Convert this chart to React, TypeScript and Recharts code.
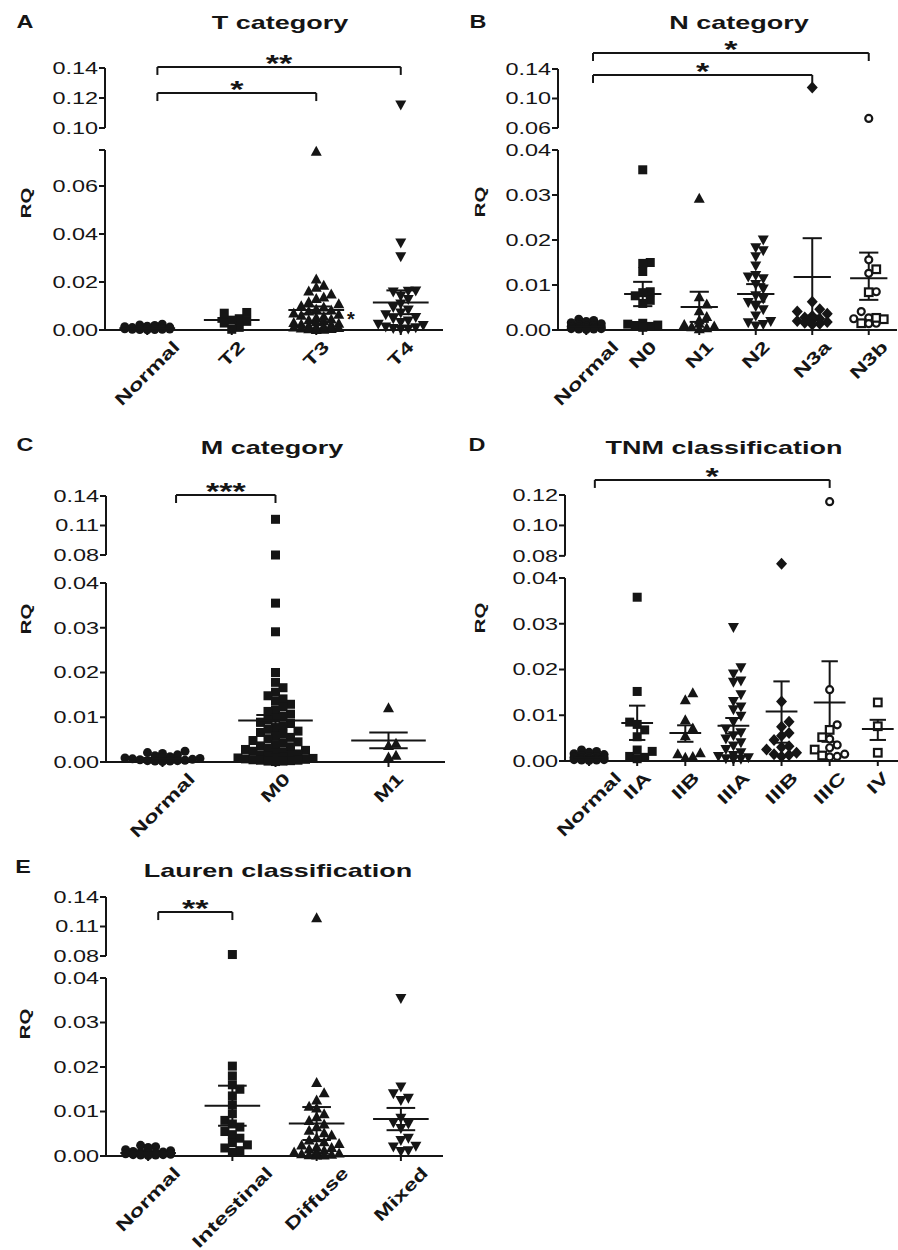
import React from "react";
import {
  ScatterChart,
  Scatter,
  XAxis,
  YAxis,
  ReferenceLine,
  ReferenceDot,
  ErrorBar,
} from "recharts";

const FONT = '"Liberation Sans", Arial, Helvetica, sans-serif';
const INK = "#151515";
const STRETCH = 1.42; // the figure uses a wide face, so text is widened
const XFS = 17;
const STEP = 7.5;
const ROW = 8;

// normal tissue, the same group in every panel
const normalRQ = [0.0024, 0.0021, 0.0019, 0.0016, 0.0014, 0.0012, 0.001, 0.0009, 0.0008, 0.0007, 0.0006, 0.0005, 0.0004, 0.0003, 0.0003, 0.0002, 0.0002, 0.0001];

// A - T category
const tCategories = ["Normal", "T2", "T3", "T4"];
const tT2 = [0.0073, 0.007, 0.0047, 0.0041, 0.0036, 0.0029, 0.0011, 0.0003];
const tT3 = [0.0745, 0.0212, 0.0186, 0.0178, 0.0163, 0.015, 0.0137, 0.0131, 0.0118, 0.0109, 0.0101, 0.0096, 0.0088, 0.0083, 0.0079, 0.0071, 0.0066, 0.0061, 0.0057, 0.0052, 0.0046, 0.0043, 0.0039, 0.0035, 0.0031, 0.0028, 0.0025, 0.0022, 0.0019, 0.0017, 0.0014, 0.0012, 0.001, 0.0008, 0.0006, 0.0005, 0.0003, 0.0002];
const tT4 = [0.1153, 0.0362, 0.0305, 0.0163, 0.0161, 0.0158, 0.0142, 0.0127, 0.0108, 0.0094, 0.0083, 0.0071, 0.0064, 0.0052, 0.0047, 0.0038, 0.0031, 0.0024, 0.0019, 0.0013, 0.0009, 0.0006, 0.0004, 0.0002];
const tMeans = [0.0007, 0.0042, 0.0083, 0.0115];
const tLow = [0.0005, 0.0034, 0.0068, 0.0066];
const tHigh = [0.0009, 0.005, 0.0098, 0.0165];

// B - N category
const nCategories = ["Normal", "N0", "N1", "N2", "N3a", "N3b"];
const nN0 = [0.0356, 0.015, 0.0148, 0.013, 0.0085, 0.0083, 0.0076, 0.0066, 0.0059, 0.0015, 0.0013, 0.0011, 0.001, 0.0008, 0.0006];
const nN1 = [0.0293, 0.0074, 0.0058, 0.0043, 0.003, 0.0022, 0.0015, 0.0012, 0.0009, 0.0007, 0.0005, 0.0003];
const nN2 = [0.02, 0.0183, 0.0176, 0.0163, 0.0142, 0.0121, 0.0118, 0.0114, 0.0101, 0.0091, 0.0076, 0.0069, 0.0061, 0.0052, 0.0045, 0.0031, 0.0019, 0.0016, 0.0012, 0.0009];
const nN3a = [0.115, 0.0063, 0.0046, 0.0041, 0.0036, 0.0031, 0.0028, 0.0025, 0.0022, 0.002, 0.0018, 0.0016, 0.0014, 0.0012];
const nN3bCircles = [0.073, 0.0156, 0.0126, 0.0085, 0.0041, 0.0027, 0.0025, 0.0015, 0.0014];
const nN3bSquares = [0.0135, 0.0084, 0.0027, 0.0024, 0.0015];
const nMeans = [0.0008, 0.008, 0.0051, 0.008, 0.0118, 0.0115];
const nLow = [0.0006, 0.0053, 0.0018, 0.0063, 0.0032, 0.0067];
const nHigh = [0.001, 0.0107, 0.0085, 0.0102, 0.0204, 0.0172];

// C - M category
const mCategories = ["Normal", "M0", "M1"];
const mM0 = [0.1163, 0.08, 0.0355, 0.0291, 0.02, 0.0178, 0.0166, 0.0156, 0.0148, 0.0141, 0.0136, 0.0129, 0.0123, 0.0116, 0.0113, 0.0107, 0.0102, 0.0098, 0.0094, 0.0089, 0.0086, 0.0081, 0.0077, 0.0073, 0.0069, 0.0066, 0.0062, 0.0058, 0.0055, 0.0052, 0.0048, 0.0045, 0.0042, 0.0039, 0.0036, 0.0034, 0.0031, 0.0028, 0.0026, 0.0024, 0.0022, 0.002, 0.0018, 0.0016, 0.0015, 0.0013, 0.0012, 0.001, 0.0009, 0.0008, 0.0007, 0.0006, 0.0005, 0.0004, 0.0004, 0.0003, 0.0002, 0.0002, 0.0001];
const mM1 = [0.0121, 0.0042, 0.0037, 0.0015, 0.0011];
const mMeans = [0.0007, 0.0093, 0.0048];
const mLow = [0.0005, 0.0081, 0.0031];
const mHigh = [0.0009, 0.0105, 0.0066];

// D - TNM classification
const sCategories = ["Normal", "IIA", "IIB", "IIIA", "IIIB", "IIIC", "IV"];
const sIIA = [0.0358, 0.0152, 0.0085, 0.008, 0.0068, 0.0053, 0.0024, 0.0021, 0.001, 0.0008, 0.0005];
const sIIB = [0.0149, 0.0134, 0.009, 0.0072, 0.0055, 0.0018, 0.0016, 0.001, 0.0008];
const sIIIA = [0.0292, 0.0204, 0.019, 0.0175, 0.0172, 0.0145, 0.013, 0.0118, 0.0112, 0.0098, 0.0085, 0.007, 0.0062, 0.0055, 0.0048, 0.004, 0.0033, 0.0025, 0.0018, 0.0012, 0.001, 0.0007, 0.0005, 0.0004, 0.0003];
const sIIIB = [0.0748, 0.013, 0.0086, 0.0075, 0.0061, 0.0055, 0.0046, 0.0032, 0.003, 0.0025, 0.0018, 0.0015, 0.0013, 0.001];
const sIIICCircles = [0.1156, 0.0156, 0.0079, 0.0048, 0.0035, 0.0029, 0.0015, 0.001, 0.0009];
const sIIICSquares = [0.0068, 0.0052, 0.0025, 0.0012];
const sIV = [0.0128, 0.0076, 0.0018];
const sMeans = [0.0008, 0.0083, 0.0061, 0.0077, 0.0108, 0.0128, 0.007];
const sLow = [0.0006, 0.0046, 0.0042, 0.006, 0.004, 0.0042, 0.0046];
const sHigh = [0.001, 0.0121, 0.0078, 0.0094, 0.0174, 0.0218, 0.009];

// E - Lauren classification
const lCategories = ["Normal", "Intestinal", "Diffuse", "Mixed"];
const lIntestinal = [0.0815, 0.0202, 0.018, 0.016, 0.015, 0.0135, 0.0115, 0.0095, 0.008, 0.0072, 0.0065, 0.0055, 0.0048, 0.004, 0.003, 0.0025, 0.0018, 0.0012, 0.0008];
const lDiffuse = [0.119, 0.0165, 0.0142, 0.0126, 0.0112, 0.0108, 0.0095, 0.0088, 0.008, 0.0072, 0.0066, 0.0058, 0.0052, 0.0047, 0.0041, 0.0036, 0.0032, 0.0028, 0.0025, 0.0021, 0.0019, 0.0016, 0.0013, 0.0011, 0.0009, 0.0007, 0.0005, 0.0004, 0.0003, 0.0002, 0.0002];
const lMixed = [0.0354, 0.0155, 0.014, 0.013, 0.0125, 0.0085, 0.0075, 0.0072, 0.0062, 0.004, 0.0035, 0.0022, 0.002, 0.0012, 0.001];
const lMeans = [0.0007, 0.0113, 0.0073, 0.0083];
const lLow = [0.0005, 0.0068, 0.0036, 0.0058];
const lHigh = [0.0009, 0.0158, 0.011, 0.0108];

type Seg = { domain: [number, number]; px: [number, number]; ticks: number[]; line: [number, number] };
type Series = { at: number; vals: number[]; marker: string };
type Bracket = { from: number; to: number; y: number; text: string };
type Panel = {
  letter: string; title: string; left: number; axisX: number; plotRight: number; xMax: number;
  cats: string[]; series: Series[]; means: number[]; low: number[]; high: number[];
  upper: Seg; lower: Seg; brackets: Bracket[]; notes?: { x: number; y: number; text: string }[];
  letterPos: [number, number]; titlePos: [number, number]; rqPos: [number, number];
};

const panels: Panel[] = [
  {
    letter: "A", title: "T category", left: 0, axisX: 105, plotRight: 443, xMax: 3.5,
    cats: tCategories,
    series: [
      { at: 0, vals: normalRQ, marker: "circle" },
      { at: 1, vals: tT2, marker: "square" },
      { at: 2, vals: tT3, marker: "triangle" },
      { at: 3, vals: tT4, marker: "down" },
    ],
    means: tMeans, low: tLow, high: tHigh,
    upper: { domain: [0.1, 0.14], px: [128, 68], ticks: [0.1, 0.12, 0.14], line: [0.1, 0.14] },
    lower: { domain: [0, 0.075], px: [330, 150], ticks: [0, 0.02, 0.04, 0.06, 0.075], line: [0, 0.075] },
    brackets: [
      { from: 0, to: 3, y: 0.1407, text: "**" },
      { from: 0, to: 2, y: 0.1233, text: "*" },
    ],
    notes: [{ x: 2.41, y: 0.0042, text: "*" }],
    letterPos: [25, 21.5], titlePos: [280, 22], rqPos: [24.5, 203],
  },
  {
    letter: "B", title: "N category", left: 440, axisX: 558, plotRight: 897, xMax: 5.5,
    cats: nCategories,
    series: [
      { at: 0, vals: normalRQ, marker: "circle" },
      { at: 1, vals: nN0, marker: "square" },
      { at: 2, vals: nN1, marker: "triangle" },
      { at: 3, vals: nN2, marker: "down" },
      { at: 4, vals: nN3a, marker: "diamond" },
      { at: 5, vals: nN3bCircles, marker: "openCircle" },
      { at: 5, vals: nN3bSquares, marker: "openSquare" },
    ],
    means: nMeans, low: nLow, high: nHigh,
    upper: { domain: [0.06, 0.14], px: [128, 69], ticks: [0.06, 0.1, 0.14], line: [0.06, 0.14] },
    lower: { domain: [0, 0.04], px: [330, 150], ticks: [0, 0.01, 0.02, 0.03, 0.04], line: [0, 0.04] },
    brackets: [
      { from: 0, to: 5, y: 0.1617, text: "*" },
      { from: 0, to: 4, y: 0.1319, text: "*" },
    ],
    letterPos: [478, 22], titlePos: [739, 22], rqPos: [479, 202],
  },
  {
    letter: "C", title: "M category", left: 0, axisX: 106, plotRight: 445, xMax: 2.5,
    cats: mCategories,
    series: [
      { at: 0, vals: normalRQ, marker: "circle" },
      { at: 1, vals: mM0, marker: "square" },
      { at: 2, vals: mM1, marker: "triangle" },
    ],
    means: mMeans, low: mLow, high: mHigh,
    upper: { domain: [0.08, 0.14], px: [555, 496], ticks: [0.08, 0.11, 0.14], line: [0.08, 0.14] },
    lower: { domain: [0, 0.04], px: [762, 583], ticks: [0, 0.01, 0.02, 0.03, 0.04], line: [0, 0.04] },
    brackets: [{ from: 0, to: 1, y: 0.141, text: "***" }],
    letterPos: [25, 445], titlePos: [272, 447], rqPos: [25, 619],
  },
  {
    letter: "D", title: "TNM classification", left: 440, axisX: 565, plotRight: 898, xMax: 6.42,
    cats: sCategories,
    series: [
      { at: 0, vals: normalRQ, marker: "circle" },
      { at: 1, vals: sIIA, marker: "square" },
      { at: 2, vals: sIIB, marker: "triangle" },
      { at: 3, vals: sIIIA, marker: "down" },
      { at: 4, vals: sIIIB, marker: "diamond" },
      { at: 5, vals: sIIICCircles, marker: "openCircle" },
      { at: 5, vals: sIIICSquares, marker: "openSquare" },
      { at: 6, vals: sIV, marker: "openSquare" },
    ],
    means: sMeans, low: sLow, high: sHigh,
    upper: { domain: [0.074, 0.12], px: [565, 495], ticks: [0.08, 0.1, 0.12], line: [0.08, 0.12] },
    lower: { domain: [0, 0.04], px: [761, 578], ticks: [0, 0.01, 0.02, 0.03, 0.04], line: [0, 0.04] },
    brackets: [{ from: 0, to: 5, y: 0.1299, text: "*" }],
    letterPos: [477, 445], titlePos: [724, 447], rqPos: [479, 618],
  },
  {
    letter: "E", title: "Lauren classification", left: 0, axisX: 106, plotRight: 443, xMax: 3.5,
    cats: lCategories,
    series: [
      { at: 0, vals: normalRQ, marker: "circle" },
      { at: 1, vals: lIntestinal, marker: "square" },
      { at: 2, vals: lDiffuse, marker: "triangle" },
      { at: 3, vals: lMixed, marker: "down" },
    ],
    means: lMeans, low: lLow, high: lHigh,
    upper: { domain: [0.08, 0.14], px: [956, 897], ticks: [0.08, 0.11, 0.14], line: [0.08, 0.14] },
    lower: { domain: [0, 0.04], px: [1156, 978], ticks: [0, 0.01, 0.02, 0.03, 0.04], line: [0, 0.04] },
    brackets: [{ from: 0, to: 1, y: 0.1247, text: "**" }],
    letterPos: [23, 867], titlePos: [278, 870], rqPos: [24, 1024],
  },
];

let measureCtx: CanvasRenderingContext2D | null = null;
function textWidth(text: string, font: string) {
  if (!measureCtx) measureCtx = document.createElement("canvas").getContext("2d");
  if (!measureCtx) return text.length * 10;
  measureCtx.font = font;
  return measureCtx.measureText(text).width;
}

// simple beeswarm: spread points sideways so they don't sit on top of each other
function swarm(vals: number[], ppu: number, maxK: number) {
  const order = vals.map((_, i) => i).sort((a, b) => vals[a] - vals[b]);
  const placed: { x: number; y: number }[] = [];
  const out = new Array(vals.length).fill(0);
  for (const i of order) {
    const y = vals[i] * ppu;
    let best = 0;
    let bestHits = Infinity;
    for (let k = 0; k <= 2 * maxK; k++) {
      const off = k === 0 ? 0 : (k % 2 ? 1 : -1) * Math.ceil(k / 2) * STEP;
      let hits = 0;
      for (const q of placed) if (Math.abs(q.x - off) < STEP * 0.9 && Math.abs(q.y - y) < ROW) hits++;
      if (hits < bestHits) {
        best = off;
        bestHits = hits;
        if (hits === 0) break;
      }
    }
    placed.push({ x: best, y });
    out[i] = best;
  }
  return out;
}

function Marker({ cx, cy, payload, kind }: any) {
  const x = cx + (payload?.dx ?? 0);
  const y = cy;
  switch (kind) {
    case "square":
      return <rect x={x - 4.5} y={y - 4.5} width={9} height={9} fill={INK} />;
    case "triangle":
      return <path d={`M${x},${y - 5.5}L${x + 5.5},${y + 4.5}L${x - 5.5},${y + 4.5}Z`} fill={INK} />;
    case "down":
      return <path d={`M${x},${y + 5.5}L${x + 5.5},${y - 4.5}L${x - 5.5},${y - 4.5}Z`} fill={INK} />;
    case "diamond":
      return <path d={`M${x},${y - 6}L${x + 5.5},${y}L${x},${y + 6}L${x - 5.5},${y}Z`} fill={INK} />;
    case "openCircle":
      return <circle cx={x} cy={y} r={3.5} fill="#fff" stroke={INK} strokeWidth={2.2} />;
    case "openSquare":
      return <rect x={x - 3.8} y={y - 3.8} width={7.6} height={7.6} fill="#fff" stroke={INK} strokeWidth={2.2} />;
    default:
      return <circle cx={x} cy={y} r={4.5} fill={INK} />;
  }
}

function YTick({ x, y, payload }: any) {
  const v = payload.value as number;
  if (Math.abs(v * 100 - Math.round(v * 100)) > 1e-6) return <g />;
  return (
    <text
      transform={`translate(${x},${y}) scale(${STRETCH},1)`}
      textAnchor="end"
      dy="0.36em"
      fontFamily={FONT}
      fontSize={16.5}
      fill={INK}
    >
      {v.toFixed(2)}
    </text>
  );
}

function XTick({ x, y, payload, labels }: any) {
  const label = labels[payload.value] ?? "";
  const w = textWidth(label, `bold ${XFS}px "Liberation Sans"`) * STRETCH;
  const by = y + 13 + 0.354 * w;
  return (
    <text
      transform={`translate(${x + 4},${by}) rotate(-45) scale(${STRETCH},1)`}
      textAnchor="middle"
      fontFamily={FONT}
      fontWeight="bold"
      fontSize={XFS}
      fill={INK}
    >
      {label}
    </text>
  );
}

function Txt({ x, y, size, sx = STRETCH, rot = 0, children }: any) {
  return (
    <div
      style={{
        position: "absolute",
        left: x,
        top: y,
        transform: `translate(-50%,-50%)${rot ? ` rotate(${rot}deg)` : ""} scaleX(${sx})`,
        fontFamily: FONT,
        fontWeight: 700,
        fontSize: size,
        lineHeight: 1,
        whiteSpace: "nowrap",
        color: INK,
      }}
    >
      {children}
    </div>
  );
}

function SegmentChart({ p, seg, isLower }: { p: Panel; seg: Seg; isLower: boolean }) {
  const band = (p.plotRight - p.axisX) / (p.xMax + 0.5);
  const [lo, hi] = seg.domain;
  const ppu = (seg.px[0] - seg.px[1]) / (hi - lo);
  const padTop = isLower ? 14 : 60;
  const padBottom = isLower ? 115 : 16;
  const rightPad = 8;
  const width = p.plotRight - p.left + rightPad;
  const height = seg.px[0] - seg.px[1] + padTop + padBottom;
  const cut = p.lower.domain[1];
  const inSeg = (v: number) => (isLower ? v <= cut : v > cut);
  const maxK = Math.max(1, Math.floor((band * 0.35) / STEP));

  const series = p.series.map((s) => ({ ...s, vals: s.vals.filter(inSeg) }));
  const dxs = series.map((s) => new Array(s.vals.length).fill(0));
  p.cats.forEach((_, ci) => {
    const members: { v: number; si: number; vi: number }[] = [];
    series.forEach((s, si) => {
      if (s.at === ci) s.vals.forEach((v, vi) => members.push({ v, si, vi }));
    });
    const off = swarm(members.map((m) => m.v), ppu, maxK);
    members.forEach((m, k) => {
      dxs[m.si][m.vi] = off[k];
    });
  });

  const meanData = p.means.map((m, i) => ({ x: i, y: m, err: [m - p.low[i], p.high[i] - m] }));
  const drop = 8 / ppu;
  const line = { stroke: INK, strokeWidth: 2 };

  return (
    <div style={{ position: "absolute", left: p.left, top: seg.px[1] - padTop }}>
      <ScatterChart
        width={width}
        height={height}
        margin={{ top: padTop, right: rightPad, bottom: isLower ? 0 : padBottom, left: 0 }}
      >
        <XAxis
          type="number"
          dataKey="x"
          domain={[-0.5, p.xMax]}
          ticks={p.cats.map((_, i) => i)}
          interval={0}
          hide={!isLower}
          height={padBottom}
          axisLine={{ stroke: INK, strokeWidth: 2 }}
          tickLine={{ stroke: INK, strokeWidth: 2 }}
          tickSize={5}
          tickMargin={0}
          tick={(props: any) => <XTick {...props} labels={p.cats} />}
        />
        <YAxis
          type="number"
          dataKey="y"
          domain={seg.domain}
          ticks={seg.ticks}
          interval={0}
          width={p.axisX - p.left}
          axisLine={false}
          tickLine={{ stroke: INK, strokeWidth: 2 }}
          tickSize={6}
          tickMargin={1}
          tick={(props: any) => <YTick {...props} />}
        />
        <ReferenceLine
          segment={[{ x: -0.5, y: seg.line[0] }, { x: -0.5, y: seg.line[1] }]}
          {...line}
          ifOverflow="visible"
        />
        {series.map((s, si) => (
          <Scatter
            key={`s${si}`}
            data={s.vals.map((v, vi) => ({ x: s.at, y: v, dx: dxs[si][vi] }))}
            isAnimationActive={false}
            shape={(props: any) => <Marker {...props} kind={s.marker} />}
          />
        ))}
        {isLower && (
          <Scatter
            data={meanData}
            isAnimationActive={false}
            shape={(props: any) => (
              <line
                x1={props.cx - band * 0.33}
                x2={props.cx + band * 0.33}
                y1={props.cy}
                y2={props.cy}
                stroke={INK}
                strokeWidth={2}
              />
            )}
          >
            <ErrorBar dataKey="err" direction="y" width={band * 0.17} stroke={INK} strokeWidth={2} />
          </Scatter>
        )}
        {isLower &&
          (p.notes ?? []).map((n, i) => (
            <ReferenceDot
              key={`n${i}`}
              x={n.x}
              y={n.y}
              r={1}
              ifOverflow="visible"
              shape={(d: any) => (
                <text x={d.cx} y={d.cy + 6} textAnchor="middle" fontFamily={FONT} fontWeight="bold" fontSize={20} fill={INK}>
                  {n.text}
                </text>
              )}
            />
          ))}
        {!isLower &&
          p.brackets.map((b, i) => {
            const x0 = b.from + 0.12;
            const x1 = b.to;
            return [
              <ReferenceLine key={`h${i}`} segment={[{ x: x0, y: b.y }, { x: x1, y: b.y }]} {...line} ifOverflow="visible" />,
              <ReferenceLine key={`l${i}`} segment={[{ x: x0, y: b.y }, { x: x0, y: b.y - drop }]} {...line} ifOverflow="visible" />,
              <ReferenceLine key={`r${i}`} segment={[{ x: x1, y: b.y }, { x: x1, y: b.y - drop }]} {...line} ifOverflow="visible" />,
              <ReferenceDot
                key={`t${i}`}
                x={(x0 + x1) / 2}
                y={b.y}
                r={1}
                ifOverflow="visible"
                shape={(d: any) => (
                  <text
                    transform={`translate(${d.cx},${d.cy + 5.4}) scale(${STRETCH},1)`}
                    textAnchor="middle"
                    fontFamily={FONT}
                    fontWeight="bold"
                    fontSize={24}
                    fill={INK}
                  >
                    {b.text}
                  </text>
                )}
              />,
            ];
          })}
      </ScatterChart>
    </div>
  );
}

function PanelView({ p }: { p: Panel }) {
  return (
    <>
      <SegmentChart p={p} seg={p.upper} isLower={false} />
      <SegmentChart p={p} seg={p.lower} isLower />
      <Txt x={p.letterPos[0]} y={p.letterPos[1]} size={18} sx={1.3}>
        {p.letter}
      </Txt>
      <Txt x={p.titlePos[0]} y={p.titlePos[1]} size={19}>
        {p.title}
      </Txt>
      <Txt x={p.rqPos[0]} y={p.rqPos[1]} size={15} sx={1.35} rot={-90}>
        RQ
      </Txt>
    </>
  );
}

export default function App() {
  return (
    <div
      style={{
        position: "absolute",
        left: 0,
        top: 0,
        width: 898,
        height: 1250,
        overflow: "hidden",
        background: "#fff",
      }}
    >
      {panels.map((p) => (
        <PanelView key={p.letter} p={p} />
      ))}
    </div>
  );
}
